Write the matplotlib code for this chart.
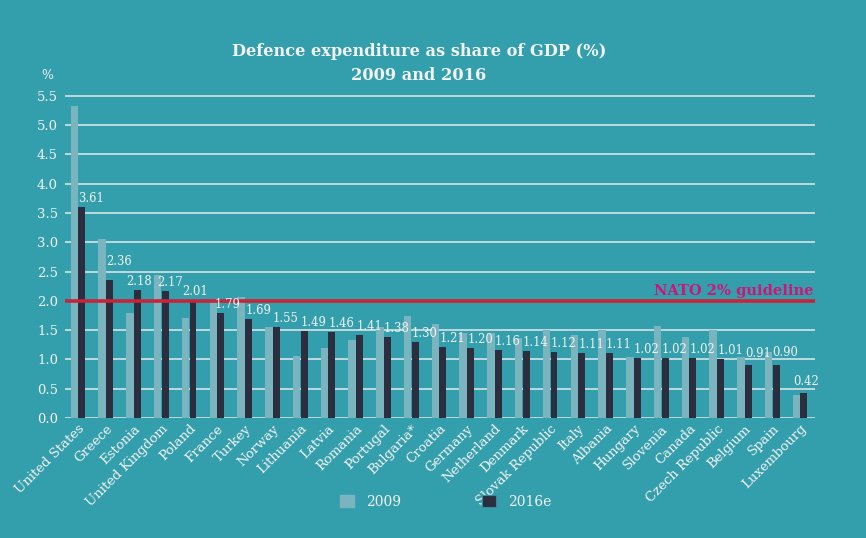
import numpy as np
import matplotlib
matplotlib.use("Agg")
import matplotlib.pyplot as plt
from matplotlib.patches import Rectangle

countries = ["United States", "Greece", "Estonia", "United Kingdom", "Poland", "France",
             "Turkey", "Norway", "Lithuania", "Latvia", "Romania", "Portugal", "Bulgaria*",
             "Croatia", "Germany", "Netherland", "Denmark", "Slovak Republic", "Italy",
             "Albania", "Hungary", "Slovenia", "Canada", "Czech Republic", "Belgium",
             "Spain", "Luxembourg"]
values_2009 = [5.32, 3.06, 1.80, 2.44, 1.70, 2.02, 2.06, 1.55, 1.06, 1.20, 1.33, 1.55, 1.74,
               1.60, 1.45, 1.45, 1.36, 1.50, 1.42, 1.50, 1.05, 1.57, 1.39, 1.51, 1.05, 1.13, 0.39]
values_2016 = [3.61, 2.36, 2.18, 2.17, 2.01, 1.79, 1.69, 1.55, 1.49, 1.46, 1.41, 1.38, 1.30,
               1.21, 1.20, 1.16, 1.14, 1.12, 1.11, 1.11, 1.02, 1.02, 1.02, 1.01, 0.91, 0.90, 0.42]
yticks = [0.0, 0.5, 1.0, 1.5, 2.0, 2.5, 3.0, 3.5, 4.0, 4.5, 5.0, 5.5]
guideline = 2.0

BG = "#349FAC"
LIGHT = "#7AB5BF"
DARK = "#2B2E3E"
RED = "#C82337"
MAGENTA = "#D21478"
WHITE = "#F2F2F2"
GRID = "#C9DFE2"
FONT = "DejaVu Serif"

plt.rcParams["font.family"] = [FONT, "DejaVu Sans"]

W, H = 866, 538
fig = plt.figure(figsize=(W / 100, H / 100), dpi=100, facecolor=BG)
ax = fig.add_axes([65 / W, 120 / H, 750 / W, 328 / H])
ax.set_facecolor(BG)

x = np.arange(len(countries))
ax.bar(x - 0.13, values_2009, width=0.27, color=LIGHT, zorder=2, label="2009")
ax.bar(x + 0.14, values_2016, width=0.25, color=DARK, zorder=3, label="2016e")

ax.set_xlim(-0.47, len(countries) - 1 + 0.54)
ax.set_ylim(0, 5.6)
ax.set_yticks(yticks)
ax.set_yticklabels([f"{t:.1f}" for t in yticks], color=WHITE, fontsize=9.5)
for t in yticks:
    ax.axhline(t, color=GRID, lw=2.0 if t == 0 else 1.3, zorder=1)
ax.axhline(guideline, color=RED, lw=2.6, zorder=4)
ax.text(len(countries) - 1 + 0.5, guideline + 0.05, "NATO 2% guideline", color=MAGENTA,
        fontsize=10.5, fontweight="bold", ha="right", va="bottom", zorder=5)

for s in ax.spines.values():
    s.set_visible(False)
ax.tick_params(axis="both", length=0)
ax.tick_params(axis="y", pad=5)
ax.set_xticks(x)
ax.set_xticklabels(countries, rotation=45, ha="right", rotation_mode="anchor",
                   color=WHITE, fontsize=9.5)
ax.tick_params(axis="x", pad=3)

# value labels (left-aligned at dark bar edge), small manual nudges in pixels
nudge = {1: (0, 10), 2: (-8, 0), 3: (-5, 0), 4: (-7, 0), 5: (-3, 0), 24: (0, 3),
         25: (0, 4), 26: (-7, 3)}
for i, v in enumerate(values_2016):
    dx, dy = nudge.get(i, (0, 0))
    ax.annotate(f"{v:.2f}", xy=(x[i] + 0.14 - 0.125, v), xytext=(dx * 0.72, (2 + dy) * 0.72),
                textcoords="offset points", ha="left", va="bottom", color=WHITE,
                fontsize=8.4, zorder=6)

fig.text(47.5 / W, 1 - 75 / H, "%", color=WHITE, fontsize=9, ha="center", va="center")
fig.text(419 / W, 1 - 52 / H, "Defence expenditure as share of GDP (%)", color=WHITE,
         fontsize=11.7, fontweight="bold", ha="center", va="center")
fig.text(419 / W, 1 - 76 / H, "2009 and 2016", color=WHITE,
         fontsize=11.7, fontweight="bold", ha="center", va="center")

handles = [Rectangle((0, 0), 1, 1, color=LIGHT),
           Rectangle((0, 0), 1, 1, facecolor=DARK, edgecolor="#3A8A98", lw=0.8)]
leg = fig.legend(handles, ["2009", "2016e"], loc="center", bbox_to_anchor=(446 / W, 1 - 502 / H),
                 ncol=2, frameon=False, fontsize=10, handlelength=1.0, handleheight=1.0,
                 handletextpad=0.9, columnspacing=5.8)
for t in leg.get_texts():
    t.set_color(WHITE)

fig.savefig("out.png", dpi=100, facecolor=BG)
